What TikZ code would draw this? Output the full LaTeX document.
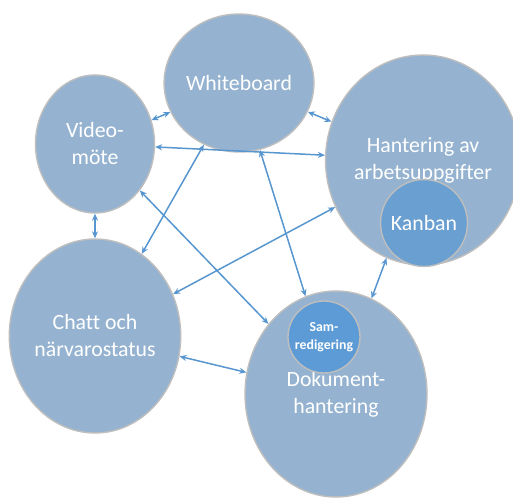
\documentclass[tikz,border=0pt]{standalone}
\usepackage{fontspec}
\setmainfont{Carlito}[Ligatures=NoCommon]
\usetikzlibrary{shapes.geometric,arrows.meta}

\definecolor{ellfill}{RGB}{149,179,208}
\definecolor{ellline}{RGB}{190,190,190}
\definecolor{kanfill}{RGB}{106,160,209}
\definecolor{samfill}{RGB}{92,155,213}
\definecolor{lnk}{RGB}{88,150,208}

\tikzset{
  tool/.style={ellipse, draw=ellline, line width=1.4pt, fill=ellfill, inner sep=0pt,
    text=white, align=center, font=\fontsize{21.8}{27}\selectfont},
  subtool/.style={tool, circle},
  link/.style={lnk, line width=1.5pt, {Stealth[length=7pt,width=6pt]}-{Stealth[length=7pt,width=6pt]}}
}

\begin{document}
\begin{tikzpicture}[x=1pt,y=1pt,yscale=-1]
\useasboundingbox (0,0) rectangle (513,497);

%Shape: Ellipse [Whiteboard]
\node [tool, minimum width=118, minimum height=138] (wb) at (239,83) {Whiteboard};
%Shape: Ellipse [Video]
\node [tool, minimum width=119, minimum height=138] (video) at (95,144) {Video-\\möte};
%Shape: Ellipse [Uppgifter]
\node [tool, minimum width=179, minimum height=210] (task) at (423,160) {Hantering av\\arbetsuppgifter};
%Shape: Circle [Kanban]
\node [subtool, fill=kanfill, minimum size=87] (kanban) at (424,223) {Kanban};
%Shape: Ellipse [Chatt]
\node [tool, minimum width=166, minimum height=194] (chat) at (95,336) {Chatt och\\närvarostatus};
%Shape: Ellipse [Dokument]
\node [tool, minimum width=182, minimum height=206] (doc) at (336,394) {Dokument-\\hantering};
%Shape: Circle [Samredigering]
\node [subtool, fill=samfill, minimum size=72, font=\fontsize{13.8}{18}\selectfont\bfseries] (samred) at (324,337) {Sam-\\redigering};

%Straight Lines
\draw [link] (video) -- (wb);
\draw [link] (wb) -- (task);
\draw [link] (video) -- (task);
\draw [link] (video) -- (chat);
\draw [link] (chat) -- (wb);
\draw [link] (video) -- (doc);
\draw [link] (wb) -- (doc);
\draw [link] (chat) -- (task);
\draw [link] (chat) -- (doc);
\draw [link] (doc) -- (task);
\end{tikzpicture}
\end{document}
